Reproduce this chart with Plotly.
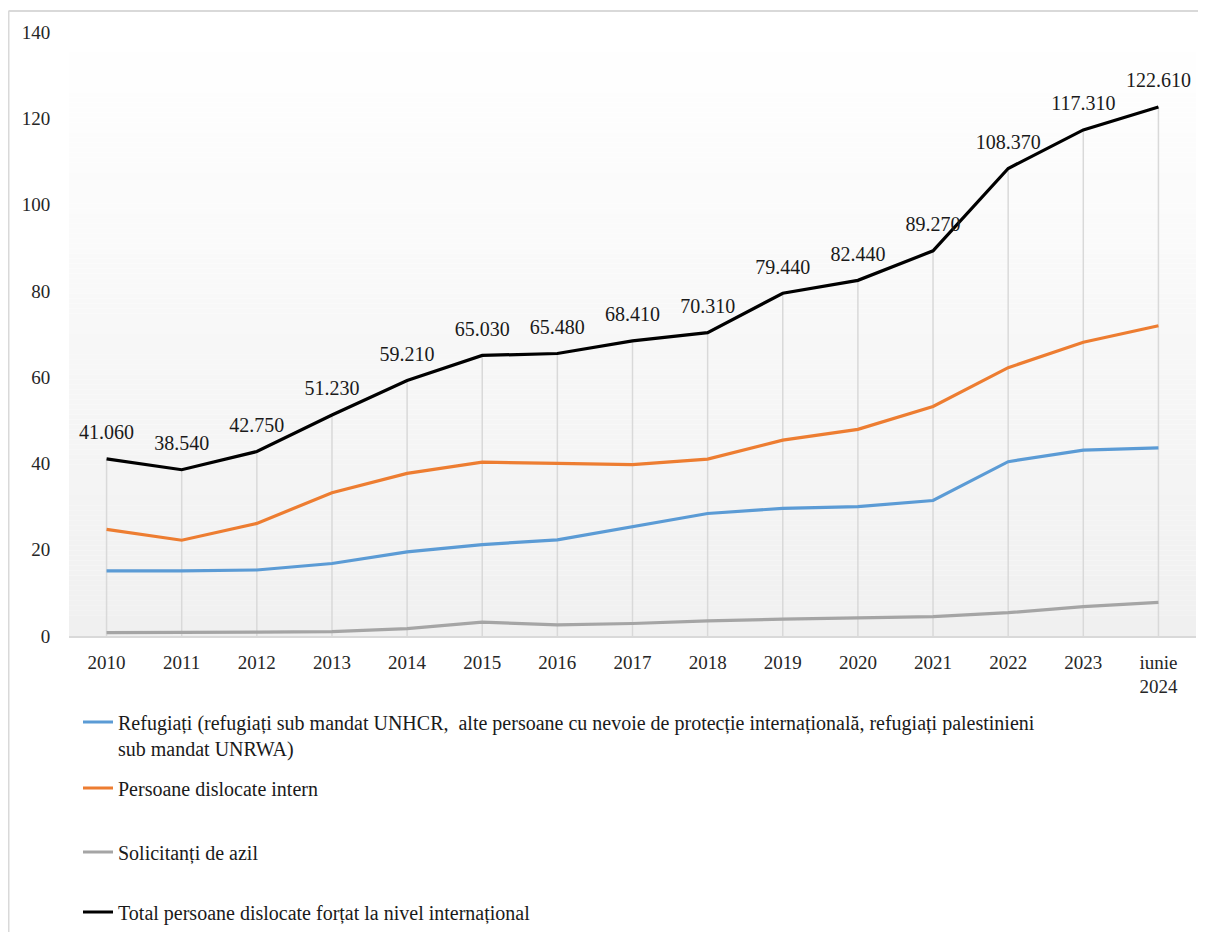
import plotly.graph_objects as go

# ---- data ----
categories = ["2010", "2011", "2012", "2013", "2014", "2015", "2016", "2017",
              "2018", "2019", "2020", "2021", "2022", "2023", "iunie 2024"]
tick_labels = ["2010", "2011", "2012", "2013", "2014", "2015", "2016", "2017",
               "2018", "2019", "2020", "2021", "2022", "2023", "iunie<br>2024"]
refugiati = [15.1, 15.1, 15.3, 16.8, 19.5, 21.2, 22.3, 25.3, 28.4, 29.6, 30.0, 31.4, 40.4, 43.1, 43.6]
dislocati_intern = [24.7, 22.2, 26.1, 33.2, 37.7, 40.3, 40.0, 39.7, 41.0, 45.4, 47.9, 53.2, 62.2, 68.1, 71.9]
solicitanti_azil = [0.8, 0.8, 0.9, 1.0, 1.7, 3.2, 2.6, 2.9, 3.5, 3.9, 4.2, 4.5, 5.4, 6.8, 7.8]
total = [41.06, 38.54, 42.75, 51.23, 59.21, 65.03, 65.48, 68.41, 70.31, 79.44, 82.44, 89.27, 108.37, 117.31, 122.61]

series_names = [
    "Refugiați (refugiați sub mandat UNHCR,  alte persoane cu nevoie de protecție internațională, refugiați palestinieni<br>sub mandat UNRWA)",
    "Persoane dislocate intern",
    "Solicitanți de azil",
    "Total persoane dislocate forțat la nivel internațional",
]
colors = ["#5B9BD5", "#ED7D31", "#A5A5A5", "#000000"]

FONT = "Liberation Serif, Times New Roman, serif"
# the page body has an 8px margin; the figure starts at (8, 8) in the window
W, H = 1192, 924
ML, MR, MT, MB = 61, 4, 24, 296
pw = W - ML - MR
ph = H - MT - MB


def px2paper_x(fx):
    return (fx - ML) / pw


def px2paper_y(fy):
    return (H - MB - fy) / ph


fig = go.Figure()

# drop lines from the total series down to the axis
dx, dy = [], []
for c, v in zip(categories, total):
    dx += [c, c, None]
    dy += [0, v, None]
fig.add_trace(go.Scatter(x=dx, y=dy, mode="lines", line=dict(color="#D9D9D9", width=1.5),
                         showlegend=False, hoverinfo="skip"))

legend_ids = ["legend", "legend2", "legend3", "legend4"]
for name, vals, col, lg in zip(series_names, [refugiati, dislocati_intern, solicitanti_azil, total], colors, legend_ids):
    is_total = vals is total
    fig.add_trace(go.Scatter(
        x=categories, y=vals, name=name, legend=lg,
        mode="lines+markers+text" if is_total else "lines",
        line=dict(color=col, width=3.2),
        marker=dict(size=22, color="rgba(0,0,0,0)") if is_total else None,
        text=[f"{v:.3f}" for v in vals] if is_total else None,
        textposition="top center",
        textfont=dict(family=FONT, size=20, color="#1a1a1a"),
    ))

# gradient background for the plot area
N = 120
shapes = []
for i in range(N):
    t = (i + 0.5) / N  # 0 bottom -> 1 top
    g = round(240 + (255 - 240) * t)
    shapes.append(dict(type="rect", xref="paper", yref="paper", x0=0, x1=1,
                       y0=i / N, y1=(i + 1) / N, fillcolor=f"rgb({g},{g},{g})",
                       line=dict(width=0), layer="below"))
# outer chart border (only top and left edges are visible)
bx, by = 0.5, 3
shapes.append(dict(type="line", xref="paper", yref="paper",
                   x0=px2paper_x(bx), x1=px2paper_x(W - 2), y0=px2paper_y(by), y1=px2paper_y(by),
                   line=dict(color="#D9D9D9", width=2), layer="below"))
shapes.append(dict(type="line", xref="paper", yref="paper",
                   x0=px2paper_x(bx), x1=px2paper_x(bx), y0=px2paper_y(by), y1=px2paper_y(H),
                   line=dict(color="#D9D9D9", width=2), layer="below"))

legend_common = dict(xref="container", yref="container", x=70 / W, xanchor="left",
                     yanchor="middle", bgcolor="rgba(0,0,0,0)",
                     font=dict(family=FONT, size=20, color="#1a1a1a"),
                     itemwidth=30, valign="top")
fig.update_layout(
    width=W, height=H,
    margin=dict(l=ML, r=MR, t=MT, b=MB, autoexpand=False),
    paper_bgcolor="white", plot_bgcolor="rgba(0,0,0,0)",
    shapes=shapes,
    legend=dict(**legend_common, y=1 - 727 / H),
    legend2=dict(**legend_common, y=1 - 780 / H),
    legend3=dict(**legend_common, y=1 - 844 / H),
    legend4=dict(**legend_common, y=1 - 904 / H),
    xaxis=dict(type="category", categoryorder="array", categoryarray=categories,
               range=[-0.5, len(categories) - 0.5],
               tickvals=categories, ticktext=tick_labels,
               showgrid=False, zeroline=False, showline=True, linecolor="#D9D9D9", linewidth=1.5,
               ticks="outside", ticklen=8, tickcolor="rgba(0,0,0,0)",
               tickfont=dict(family=FONT, size=19, color="#262626")),
    yaxis=dict(range=[0, 140], dtick=20, tick0=0, showgrid=False, zeroline=False, showline=False,
               ticks="outside", ticklen=14, tickcolor="rgba(0,0,0,0)",
               tickfont=dict(family=FONT, size=19, color="#262626")),
    hovermode=False,
)

fig.write_html(
    "out.html",
    config={"displayModeBar": False},
    post_script="document.documentElement.style.overflow='hidden';document.body.style.overflow='hidden';",
)
